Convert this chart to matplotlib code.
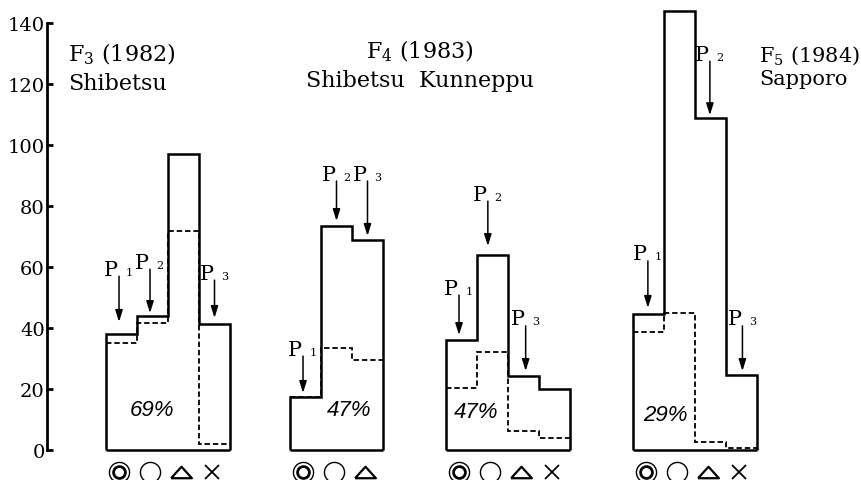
import matplotlib
matplotlib.use('Agg')
import numpy as np
import matplotlib.pyplot as plt

# ── data ──────────────────────────────────────────────────────────────────────
symbols = ['◎', '○', '△', '×']

f3_total = [38.2, 44.0, 97.0, 41.4]
f3_inner = [35.2, 41.8, 71.7, 2.0]

f4s_total = [17.4, 73.4, 68.8]
f4s_inner = [17.4, 33.6, 29.6]

f4k_total = [36.2, 63.8, 24.4, 20.1]
f4k_inner = [20.4, 32.2, 6.3, 4.0]

f5_total = [44.7, 144.0, 108.9, 24.7]
f5_inner = [38.8, 45.0, 2.6, 0.6]

percents = ['69%', '47%', '47%', '29%']

# P arrows per group: (label digit, bar index)
f3_arrows = [('1', 0), ('2', 1), ('3', 3)]
f4s_arrows = [('1', 0), ('2', 1), ('3', 2)]
f4k_arrows = [('1', 0), ('2', 1), ('3', 2)]
f5_arrows = [('1', 0), ('2', 2), ('3', 3)]

# ── layout ────────────────────────────────────────────────────────────────────
BAR_W = 31
groups = [
    # start x, totals, inner, arrows, arrow (xfrac, gap, length), pct x offset, pct y
    (106, f3_total, f3_inner, f3_arrows,
     [(0.42, 3.8, 15.0), (0.42, 0.9, 14.4), (0.5, 1.9, 12.4)], 46, 13.4),
    (290, f4s_total, f4s_inner, f4s_arrows,
     [(0.42, 1.3, 12.1), (0.5, 1.7, 13.1), (0.5, 1.4, 18.0)], 59, 13.4),
    (446, f4k_total, f4k_inner, f4k_arrows,
     [(0.42, 1.5, 13.1), (0.35, 3.1, 14.7), (0.57, 1.5, 14.8)], 30, 12.5),
    (633, f5_total, f5_inner, f5_arrows,
     [(0.48, 1.9, 15.4), (0.48, 0.9, 17.7), (0.53, 1.2, 14.8)], 32, 11.8),
]

plt.rcParams['font.family'] = 'DejaVu Serif'
plt.rcParams['mathtext.fontset'] = 'dejavuserif'

fig = plt.figure(figsize=(8.61, 4.81), dpi=100)
fig.patch.set_facecolor('white')
ax = fig.add_axes([0, 0, 1, 1])
ax.set_xlim(0, 861)
ax.set_ylim(-9.84, 147.9)

# axis
for s in ['top', 'right', 'bottom']:
    ax.spines[s].set_visible(False)
ax.spines['left'].set_position(('data', 47))
ax.spines['left'].set_bounds(0, 140)
ax.spines['left'].set_linewidth(2.0)
ax.set_xticks([])
ax.set_yticks(np.arange(0, 141, 20))
ax.tick_params(axis='y', direction='in', length=4.5, width=2, labelsize=14, pad=1.5)

tri = [(-1, -0.55), (1, -0.55), (0, 0.55), (-1, -0.55)]


def draw_symbol(x, y, kind):
    if kind == 0:
        ax.plot(x, y, 'o', ms=14.5, mfc='none', mec='k', mew=1.0, clip_on=False)
        ax.plot(x, y, 'o', ms=8.5, mfc='none', mec='k', mew=2.0, clip_on=False)
    elif kind == 1:
        ax.plot(x, y, 'o', ms=14.5, mfc='none', mec='k', mew=1.0, clip_on=False)
    elif kind == 2:
        ax.plot(x, y, marker=tri, ms=15, mfc='none', mec='k', mew=1.6, clip_on=False)
    else:
        ax.plot(x, y, 'x', ms=9.5, mec='k', mew=1.3, clip_on=False)


for start, total, inner, arrows, arrow_lay, pdx, pdy in groups:
    n = len(total)
    edges = start + np.arange(n + 1) * BAR_W
    outline = ax.stairs(total, edges, baseline=0, color='k', lw=1.8)
    outline.set_joinstyle('miter')
    ax.hlines(0, edges[0], edges[-1], color='k', lw=1.8)
    ax.stairs(inner, edges, baseline=None, color='k', lw=1.3,
              linestyle=(0, (3, 1.6)))

    for (digit, bi), (xf, gap, length) in zip(arrows, arrow_lay):
        px = edges[bi] + xf * BAR_W
        tip = total[bi] + gap
        tail = tip + length
        ax.annotate('', xy=(px, tip), xytext=(px, tail),
                    arrowprops=dict(arrowstyle='-|>,head_length=0.7,head_width=0.22',
                                    color='k', lw=1.1, shrinkA=0, shrinkB=0))
        ax.text(px - 8, tail + 0.5, 'P', ha='center', va='baseline', fontsize=15)
        ax.text(px + 10, tail + 0.5, digit, ha='center', va='baseline', fontsize=8)

    for i in range(n):
        draw_symbol(edges[i] + BAR_W / 2 - 3, -7.2, i)

for (start, *_rest), pct in zip(groups, percents):
    pdx, pdy = _rest[-2], _rest[-1]
    ax.text(start + pdx, pdy, pct, ha='center', va='center', fontsize=16,
            family='Liberation Sans', style='italic')

# titles
ax.text(68, 127.9, r'F$_3$ (1982)', ha='left', va='baseline', fontsize=16)
ax.text(68, 118.4, 'Shibetsu', ha='left', va='baseline', fontsize=16)
ax.text(420, 128.9, r'F$_4$ (1983)', ha='center', va='baseline', fontsize=16)
ax.text(420, 119.3, 'Shibetsu  Kunneppu', ha='center', va='baseline', fontsize=16)
ax.text(759, 127.8, r'F$_5$ (1984)', ha='left', va='baseline', fontsize=15)
ax.text(759, 120.0, 'Sapporo', ha='left', va='baseline', fontsize=15)

fig.savefig('out.png', dpi=100, facecolor='white')
